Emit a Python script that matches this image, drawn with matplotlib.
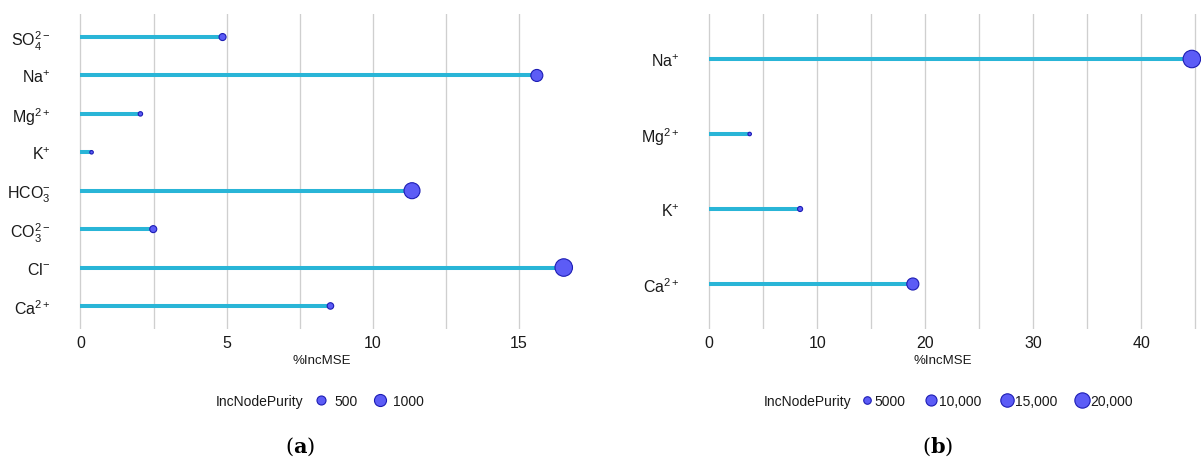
import numpy as np
import matplotlib
matplotlib.use("Agg")
import matplotlib.pyplot as plt
from matplotlib.lines import Line2D

plt.rcParams['font.family'] = ['Liberation Sans', 'DejaVu Sans']
plt.rcParams['mathtext.fontset'] = 'custom'
plt.rcParams['mathtext.rm'] = 'Liberation Sans'
plt.rcParams['mathtext.it'] = 'Liberation Sans:italic'
plt.rcParams['mathtext.bf'] = 'Liberation Sans:bold'

# ---- data: panel (a), listed bottom to top ----
ions_a = [r'Ca$^{2+}$', r'Cl$^{-}$', r'CO$_3^{2-}$', r'HCO$_3^{-}$',
          r'K$^{+}$', r'Mg$^{2+}$', r'Na$^{+}$', r'SO$_4^{2-}$']
incmse_a = [8.55, 16.53, 2.49, 11.34, 0.38, 2.05, 15.61, 4.86]
purity_a = [246, 2450, 284, 1980, 140, 150, 992, 284]
legend_a = [500, 1000]
legend_a_labels = ['500', '1000']

# ---- data: panel (b), listed bottom to top ----
ions_b = [r'Ca$^{2+}$', r'K$^{+}$', r'Mg$^{2+}$', r'Na$^{+}$']
incmse_b = [18.86, 8.42, 3.75, 44.7]
purity_b = [12000, 3300, 3000, 27000]
legend_b = [5000, 10000, 15000, 20000]
legend_b_labels = ['5000', '10,000', '15,000', '20,000']

W, H, DPI = 1201, 460, 100
LINE = '#29b5d7'
FACE = '#5c5cf6'
EDGE = '#1c1cb4'
GRID = '#cfcfcf'
TXT = '#1a1a1a'
PT = 72.0 / DPI  # points per pixel


def diam_px(v, vmin, vmax, dmin=3.5, dmax=17.5):
    """Area-style size scale: diameter in pixels for a purity value."""
    frac = np.clip((np.asarray(v, float) - vmin) / (vmax - vmin), 0, 1)
    return dmin + (dmax - dmin) * np.sqrt(frac)


fig = plt.figure(figsize=(W / DPI, H / DPI), dpi=DPI)


def panel(rect, ions, mse, purity, xlim, grid_step, major, leg_vals, leg_labels,
          leg_x, title_x, cap_x, cap, leg_kw):
    ax = fig.add_axes(rect)
    y = np.arange(1, len(ions) + 1)
    vmin, vmax = min(purity), max(purity)
    ax.hlines(y, 0, mse, color=LINE, lw=2.9, zorder=2, capstyle='butt')
    d = diam_px(purity, vmin, vmax)
    ax.scatter(mse, y, s=(d * PT) ** 2, facecolor=FACE, edgecolor=EDGE,
               linewidths=0.8, zorder=3, clip_on=False)
    ax.set_xlim(*xlim)
    ax.set_ylim(0.4, len(ions) + 0.6)
    for g in np.arange(0, xlim[1] + 1e-9, grid_step):
        ax.axvline(g, color=GRID, lw=0.95, zorder=1)
    ax.set_xticks(major)
    ax.set_xticklabels([f'{m:g}' for m in major])
    ax.set_yticks(y)
    ax.set_yticklabels(ions)
    ax.tick_params(length=0, labelsize=11.5, colors=TXT)
    ax.tick_params(axis='y', pad=4)
    ax.tick_params(axis='x', pad=4)
    for s in ax.spines.values():
        s.set_visible(False)
    ax.set_xlabel('%IncMSE', fontsize=9.5, color=TXT, labelpad=3)

    # size legend
    ld = diam_px(leg_vals, vmin, vmax)
    handles = [Line2D([], [], ls='', marker='o', markersize=dd * PT,
                      markerfacecolor=FACE, markeredgecolor=EDGE,
                      markeredgewidth=0.8) for dd in ld]
    fig.text(title_x / W, 1 - 402 / H, 'IncNodePurity', fontsize=10,
             color=TXT, ha='left', va='center')
    fig.legend(handles, leg_labels, loc='center left',
               bbox_to_anchor=(leg_x / W, 1 - 402 / H), ncol=len(leg_vals),
               frameon=False, fontsize=10, borderpad=0, borderaxespad=0,
               numpoints=1, labelcolor=TXT, **leg_kw)
    fig.text(cap_x / W, 1 - 447 / H, r'$(\mathbf{' + cap + '})$', fontsize=15,
             math_fontfamily='dejavuserif', ha='center', va='center')
    return ax


top, bot = 15, 330
ha = (bot - top) / H
ya = 1 - bot / H

panel([56.2 / W, ya, (588 - 56.2) / W, ha], ions_a, incmse_a, purity_a,
      (-0.83, 17.36), 2.5, [0, 5, 10, 15], legend_a, legend_a_labels,
      314, 216, 300, 'a',
      dict(handlelength=1.0, handletextpad=0.45, columnspacing=1.1))

panel([685 / W, ya, (W - 685) / W, ha], ions_b, incmse_b, purity_b,
      (-2.24, 45.55), 5, [0, 10, 20, 30, 40], legend_b, legend_b_labels,
      861, 764, 938, 'b',
      dict(handlelength=0.8, handletextpad=0.2, columnspacing=1.4))

fig.savefig('out.png', dpi=DPI, facecolor='white')
